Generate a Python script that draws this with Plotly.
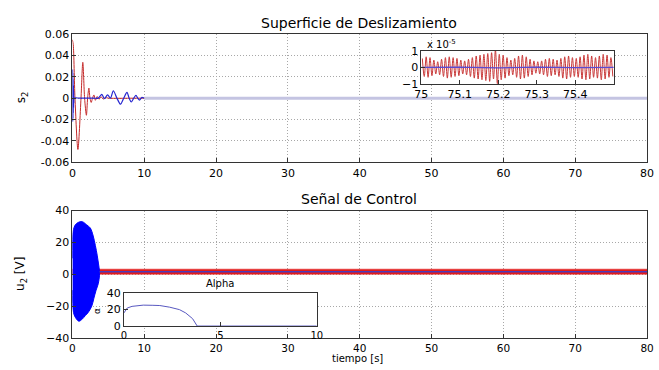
import numpy as np
import plotly.graph_objects as go

# ---------------- data ----------------
# Sliding surface s2: red response
s_red_t = [0.0, 0.12, 0.36, 0.77, 1.2, 1.45, 1.7, 1.95, 2.12, 2.3, 2.45, 2.62, 2.8, 3.0, 3.2, 3.45, 3.7, 4.0, 4.3, 4.6, 5.0, 10.0, 80.0]
s_red_v = [0.0546, 0.050, 0.0, -0.048, 0.0, 0.0335, 0.0, -0.016, 0.0, 0.0094, 0.0, -0.004, 0.0, 0.003, -0.002, 0.0015, -0.001, 0.0012, -0.0008, 0.0005, 0.0, 0.0, 0.0]

# Sliding surface s2: blue response (initial chattering burst, then decaying wave)
s_blue_t = [0.0, 0.02, 0.04, 0.06, 0.08, 0.10, 0.12, 0.14, 0.16, 0.18, 0.20, 0.25, 1.0, 2.0, 3.0, 3.6,
            4.1, 4.45, 4.9, 5.3, 5.7, 6.2, 6.7, 7.15, 7.6, 7.9, 8.2, 8.55, 8.85, 9.1, 9.35, 9.65, 10.0]
s_blue_v = [0.0, 0.027, -0.022, 0.024, -0.019, 0.018, -0.014, 0.012, -0.009, 0.007, -0.004, 0.0, 0.0, 0.0, 0.0, 0.0,
            0.0035, -0.0005, 0.003, 0.0, 0.0069, 0.0, -0.0057, 0.0, 0.0054, 0.0, -0.0036, 0.0, 0.0027, 0.0, -0.0018, 0.0006, 0.0]
s_tail_t = [10.0, 80.0]
s_tail_v = [0.0, 0.0]

# Zoomed window 75 .. 75.5 s (units of 1e-5): successive peaks and troughs
zoom_peaks = [0.55, 0.65, 0.60, 0.45, 0.35, 0.50, 0.60, 0.65, 0.60, 0.55,
              0.45, 0.40, 0.50, 0.60, 0.70, 0.75, 0.80, 0.85, 0.90, 1.10,
              0.80, 0.75, 0.60, 0.45, 0.55, 0.70, 0.75, 0.65, 0.50, 0.40,
              0.35, 0.40, 0.50, 0.55, 0.50, 0.45, 0.55, 0.65, 0.70, 0.60,
              0.55, 0.65, 0.75, 0.80, 0.70, 0.60, 0.70, 0.80, 0.75, 0.60]
zoom_troughs = [-0.55, -0.60, -0.50, -0.40, -0.45, -0.55, -0.65, -0.60, -0.55, -0.50,
                -0.40, -0.45, -0.55, -0.65, -0.70, -0.75, -0.80, -0.85, -0.70, -1.00,
                -0.75, -0.65, -0.50, -0.45, -0.60, -0.70, -0.65, -0.55, -0.45, -0.35,
                -0.40, -0.45, -0.55, -0.50, -0.45, -0.55, -0.65, -0.70, -0.60, -0.55,
                -0.60, -0.70, -0.75, -0.70, -0.60, -0.65, -0.75, -0.70, -0.60, -0.55]
zoom_blue_t = [75.0, 75.1, 75.2, 75.3, 75.4, 75.5]
zoom_blue_v = [0.0, 0.02, -0.02, 0.02, -0.01, 0.0]

# Control signal u2: envelope of the blue chattering burst
u_env_up_t = [0.0, 0.05, 0.15, 0.4, 0.8, 1.36, 2.0, 2.5, 2.9, 3.2, 3.45, 3.62, 3.77]
u_env_up_v = [10.0, 24.0, 28.0, 31.0, 32.5, 33.0, 31.0, 29.0, 24.0, 18.0, 12.0, 7.0, 2.0]
u_env_lo_t = [3.77, 3.6, 3.3, 3.0, 2.7, 2.2, 1.8, 1.3, 0.9, 0.4, 0.15, 0.05, 0.0]
u_env_lo_v = [-1.0, -6.0, -10.0, -15.0, -20.0, -24.0, -26.0, -28.5, -29.5, -27.0, -24.0, -20.0, -10.0]

# Control signal u2: red chattering band and its mean
u_band_t = [0.0, 80.0]
u_band_lo = [0.0, 0.0]
u_band_hi = [3.2, 3.2]
u_mean_t = [3.77, 80.0]
u_mean_v = [1.6, 1.6]

# Adaptive gain alpha
alpha_t = [0.0, 0.17, 0.42, 0.7, 1.0, 1.5, 1.86, 2.37, 2.88, 3.2, 3.56, 3.8, 10.0]
alpha_v = [16.0, 22.0, 24.0, 25.0, 25.5, 25.3, 25.0, 23.0, 20.0, 16.0, 9.0, 0.0, 0.0]

main_xticks = [0, 10, 20, 30, 40, 50, 60, 70, 80]
s_yticks = [-0.06, -0.04, -0.02, 0, 0.02, 0.04, 0.06]
s_yticklabels = ["-0.06", "-0.04", "-0.02", "0", "0.02", "0.04", "0.06"]
u_yticks = [-40, -20, 0, 20, 40]
zoom_xticks = [75, 75.1, 75.2, 75.3, 75.4]
zoom_yticks = [-1, 0, 1]
alpha_xticks = [0, 5, 10]
alpha_yticks = [0, 20, 40]

# ---------------- styling ----------------
RED = "#c42a2a"
BLUE = "#2626d0"
FONT = "DejaVu Sans, Verdana, sans-serif"
W, H = 659, 370


def px_x(x):
    return x / W


def px_y(y):
    return 1 - y / H


fig = go.Figure()

# Top: sliding surface
fig.add_trace(go.Scatter(x=s_red_t, y=s_red_v, mode="lines", line=dict(color=RED, width=1, shape="spline", smoothing=0.8),
                         xaxis="x", yaxis="y", showlegend=False))
fig.add_trace(go.Scatter(x=s_blue_t, y=s_blue_v, mode="lines", line=dict(color=BLUE, width=1.2, shape="spline", smoothing=0.8),
                         xaxis="x", yaxis="y", showlegend=False))
fig.add_trace(go.Scatter(x=s_tail_t, y=s_tail_v, mode="lines", line=dict(color="#c4c4e2", width=3),
                         xaxis="x", yaxis="y", showlegend=False))

# Bottom: control signal
fig.add_trace(go.Scatter(x=u_band_t + u_band_t[::-1], y=u_band_hi + u_band_lo[::-1], mode="lines",
                         fill="toself", fillcolor="#e31b1b", line=dict(color="#e31b1b", width=0.5),
                         xaxis="x2", yaxis="y2", showlegend=False))
fig.add_trace(go.Scatter(x=u_env_up_t + u_env_lo_t, y=u_env_up_v + u_env_lo_v, mode="lines",
                         fill="toself", fillcolor="#0000ff", line=dict(color="#0000ff", width=1, shape="spline"),
                         xaxis="x2", yaxis="y2", showlegend=False))
fig.add_trace(go.Scatter(x=u_mean_t, y=u_mean_v, mode="lines", line=dict(color="#4a3ab8", width=1.6),
                         xaxis="x2", yaxis="y2", showlegend=False))

# Inset: zoomed sliding surface
zoom_t = np.round(np.arange(100) * 0.005 + 75.0025, 4)
zoom_v = [v for pair in zip(zoom_peaks, zoom_troughs) for v in pair]
fig.add_trace(go.Scatter(x=zoom_t, y=zoom_v, mode="lines", line=dict(color="#c83838", width=1, shape="spline", smoothing=0.9),
                         xaxis="x3", yaxis="y3", showlegend=False))
fig.add_trace(go.Scatter(x=zoom_blue_t, y=zoom_blue_v, mode="lines", line=dict(color="#5a4ad0", width=1.2),
                         xaxis="x3", yaxis="y3", showlegend=False))

# Inset: alpha
fig.add_trace(go.Scatter(x=alpha_t, y=alpha_v, mode="lines", line=dict(color="#5858c0", width=1),
                         xaxis="x4", yaxis="y4", showlegend=False))

axis_common = dict(showline=True, mirror=True, linecolor="#333333", linewidth=1, ticks="inside", ticklen=4,
                   tickcolor="#333333", zeroline=False)
tick11 = dict(tickfont=dict(family=FONT, size=11, color="black"))
tick10 = dict(tickfont=dict(family=FONT, size=10, color="black"))
grid = dict(showgrid=True, gridcolor="#a8a8a8", griddash="1px,2px", gridwidth=1)

dom_x = [px_x(66.7), px_x(653)]
fig.update_layout(
    width=W, height=H, margin=dict(l=0, r=0, t=0, b=0),
    paper_bgcolor="white", plot_bgcolor="white",
    font=dict(family=FONT, size=11, color="black"),
    xaxis=dict(domain=dom_x, anchor="y", range=[0, 80], tickvals=main_xticks, **axis_common, **tick11, **grid),
    yaxis=dict(domain=[px_y(162), px_y(29)], anchor="x", range=[-0.06, 0.06], tickvals=s_yticks,
               ticktext=s_yticklabels, **axis_common, **tick11, **grid),
    xaxis2=dict(domain=dom_x, anchor="y2", range=[0, 80], tickvals=main_xticks,
                tickfont=dict(family=FONT, size=10.5, color="black"), **axis_common, **grid),
    yaxis2=dict(domain=[px_y(344), px_y(212)], anchor="x2", range=[-40, 40], tickvals=u_yticks,
                **axis_common, **tick11, **grid),
    xaxis3=dict(domain=[px_x(422.7), px_x(619)], anchor="y3", range=[75, 75.5], tickvals=zoom_xticks,
                ticktext=["75", "75.1", "75.2", "75.3", "75.4"], showgrid=False, **axis_common, **tick11),
    yaxis3=dict(domain=[px_y(80.7), px_y(46.7)], anchor="x3", range=[-1, 1], tickvals=zoom_yticks,
                showgrid=False, **axis_common, **tick11),
    xaxis4=dict(domain=[px_x(119.3), px_x(316)], anchor="y4", range=[0, 10], tickvals=alpha_xticks,
                showgrid=False, **axis_common, **tick10),
    yaxis4=dict(domain=[px_y(331.7), px_y(297.7)], anchor="x4", range=[0, 40], tickvals=alpha_yticks,
                showgrid=False, **axis_common, **tick11),
)

annotations = [
    dict(text="Superficie de Deslizamiento", x=px_x(359), y=px_y(18), font=dict(size=14)),
    dict(text="Señal de Control", x=px_x(359), y=px_y(200), font=dict(size=14)),
    dict(text="tiempo [s]", x=px_x(358), y=px_y(365.5), font=dict(size=10)),
    dict(text="s<sub>2</sub>", x=px_x(15), y=px_y(95), font=dict(size=12), textangle=-90),
    dict(text="u<sub>2</sub> [V]", x=px_x(15), y=px_y(278), font=dict(size=12), textangle=-90),
    dict(text="x 10<sup>-5</sup>", x=px_x(443), y=px_y(39), font=dict(size=10)),
    dict(text="Alpha", x=px_x(217), y=px_y(288), font=dict(size=10)),
    dict(text="α", x=px_x(92), y=px_y(316), font=dict(size=9), textangle=-90),
]
for a in annotations:
    a.update(xref="paper", yref="paper", showarrow=False, xanchor="center", yanchor="middle")
    a["font"].update(family=FONT, color="black")
fig.update_layout(annotations=annotations)

fig.write_html("out.html")
